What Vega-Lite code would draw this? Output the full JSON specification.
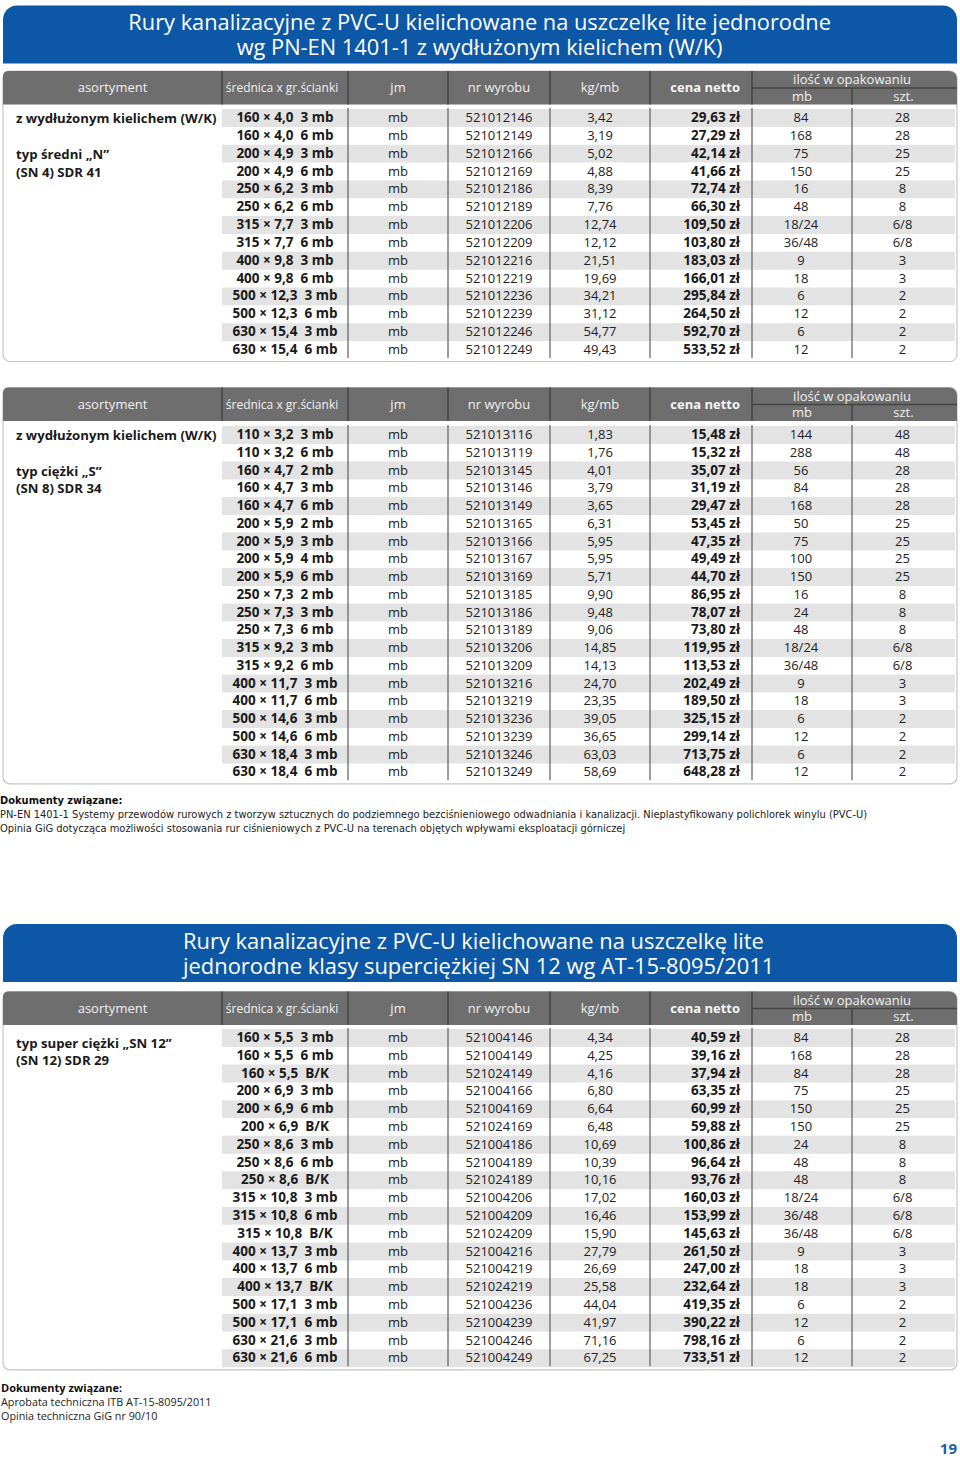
{
"$schema": "https://vega.github.io/schema/vega-lite/v6.json",
"width": 960, "height": 1457,
"autosize": {"type": "fit", "contains": "padding"},
"padding": 0,
"background": "white",
"config": {"view": {"stroke": null}, "text": {"font": "Open Sans"}},
"datasets": {
"titles": [
{"banner": 1, "line": 1, "text": ["Rury kanalizacyjne z PVC-U kielichowane na uszczelkę lite jednorodne", "wg PN-EN 1401-1 z wydłużonym kielichem (W/K)"]},
{"banner": 2, "line": 42, "text": ["Rury kanalizacyjne z PVC-U kielichowane na uszczelkę lite", "jednorodne klasy superciężkiej SN 12 wg AT-15-8095/2011"]}
],
"tables": [
{"tab": 1, "head": 3, "first": 4, "last": 17, "h_asort": "asortyment", "h_sred": "średnica x gr.ścianki", "h_jm": "jm", "h_nr": "nr wyrobu", "h_kg": "kg/mb", "h_cena": "cena netto", "h_ilosc": "ilość w opakowaniu", "h_mb": "mb", "h_szt": "szt."},
{"tab": 2, "head": 18, "first": 19, "last": 38, "h_asort": "asortyment", "h_sred": "średnica x gr.ścianki", "h_jm": "jm", "h_nr": "nr wyrobu", "h_kg": "kg/mb", "h_cena": "cena netto", "h_ilosc": "ilość w opakowaniu", "h_mb": "mb", "h_szt": "szt."},
{"tab": 3, "head": 44, "first": 45, "last": 63, "h_asort": "asortyment", "h_sred": "średnica x gr.ścianki", "h_jm": "jm", "h_nr": "nr wyrobu", "h_kg": "kg/mb", "h_cena": "cena netto", "h_ilosc": "ilość w opakowaniu", "h_mb": "mb", "h_szt": "szt."}
],
"vlines": [
{"tab": 1, "b": 1}, {"tab": 1, "b": 2}, {"tab": 1, "b": 3}, {"tab": 1, "b": 4}, {"tab": 1, "b": 5}, {"tab": 1, "b": 6}, {"tab": 1, "b": 7},
{"tab": 2, "b": 1}, {"tab": 2, "b": 2}, {"tab": 2, "b": 3}, {"tab": 2, "b": 4}, {"tab": 2, "b": 5}, {"tab": 2, "b": 6}, {"tab": 2, "b": 7},
{"tab": 3, "b": 1}, {"tab": 3, "b": 2}, {"tab": 3, "b": 3}, {"tab": 3, "b": 4}, {"tab": 3, "b": 5}, {"tab": 3, "b": 6}, {"tab": 3, "b": 7}
],
"rows": [
{"tab": 1, "row": 1, "line": 4, "size": "160 × 4,0\u00a0 3 mb", "jm": "mb", "nr": "521012146", "kg": "3,42", "cena": "29,63 zł", "mb": "84", "szt": "28", "desc": "z wydłużonym kielichem (W/K)"},
{"tab": 1, "row": 2, "line": 5, "size": "160 × 4,0\u00a0 6 mb", "jm": "mb", "nr": "521012149", "kg": "3,19", "cena": "27,29 zł", "mb": "168", "szt": "28"},
{"tab": 1, "row": 3, "line": 6, "size": "200 × 4,9\u00a0 3 mb", "jm": "mb", "nr": "521012166", "kg": "5,02", "cena": "42,14 zł", "mb": "75", "szt": "25", "desc": "typ średni „N”"},
{"tab": 1, "row": 4, "line": 7, "size": "200 × 4,9\u00a0 6 mb", "jm": "mb", "nr": "521012169", "kg": "4,88", "cena": "41,66 zł", "mb": "150", "szt": "25", "desc": "(SN 4) SDR 41"},
{"tab": 1, "row": 5, "line": 8, "size": "250 × 6,2\u00a0 3 mb", "jm": "mb", "nr": "521012186", "kg": "8,39", "cena": "72,74 zł", "mb": "16", "szt": "8"},
{"tab": 1, "row": 6, "line": 9, "size": "250 × 6,2\u00a0 6 mb", "jm": "mb", "nr": "521012189", "kg": "7,76", "cena": "66,30 zł", "mb": "48", "szt": "8"},
{"tab": 1, "row": 7, "line": 10, "size": "315 × 7,7\u00a0 3 mb", "jm": "mb", "nr": "521012206", "kg": "12,74", "cena": "109,50 zł", "mb": "18/24", "szt": "6/8"},
{"tab": 1, "row": 8, "line": 11, "size": "315 × 7,7\u00a0 6 mb", "jm": "mb", "nr": "521012209", "kg": "12,12", "cena": "103,80 zł", "mb": "36/48", "szt": "6/8"},
{"tab": 1, "row": 9, "line": 12, "size": "400 × 9,8\u00a0 3 mb", "jm": "mb", "nr": "521012216", "kg": "21,51", "cena": "183,03 zł", "mb": "9", "szt": "3"},
{"tab": 1, "row": 10, "line": 13, "size": "400 × 9,8\u00a0 6 mb", "jm": "mb", "nr": "521012219", "kg": "19,69", "cena": "166,01 zł", "mb": "18", "szt": "3"},
{"tab": 1, "row": 11, "line": 14, "size": "500 × 12,3\u00a0 3 mb", "jm": "mb", "nr": "521012236", "kg": "34,21", "cena": "295,84 zł", "mb": "6", "szt": "2"},
{"tab": 1, "row": 12, "line": 15, "size": "500 × 12,3\u00a0 6 mb", "jm": "mb", "nr": "521012239", "kg": "31,12", "cena": "264,50 zł", "mb": "12", "szt": "2"},
{"tab": 1, "row": 13, "line": 16, "size": "630 × 15,4\u00a0 3 mb", "jm": "mb", "nr": "521012246", "kg": "54,77", "cena": "592,70 zł", "mb": "6", "szt": "2"},
{"tab": 1, "row": 14, "line": 17, "size": "630 × 15,4\u00a0 6 mb", "jm": "mb", "nr": "521012249", "kg": "49,43", "cena": "533,52 zł", "mb": "12", "szt": "2"},
{"tab": 2, "row": 1, "line": 19, "size": "110 × 3,2\u00a0 3 mb", "jm": "mb", "nr": "521013116", "kg": "1,83", "cena": "15,48 zł", "mb": "144", "szt": "48", "desc": "z wydłużonym kielichem (W/K)"},
{"tab": 2, "row": 2, "line": 20, "size": "110 × 3,2\u00a0 6 mb", "jm": "mb", "nr": "521013119", "kg": "1,76", "cena": "15,32 zł", "mb": "288", "szt": "48"},
{"tab": 2, "row": 3, "line": 21, "size": "160 × 4,7\u00a0 2 mb", "jm": "mb", "nr": "521013145", "kg": "4,01", "cena": "35,07 zł", "mb": "56", "szt": "28", "desc": "typ ciężki „S”"},
{"tab": 2, "row": 4, "line": 22, "size": "160 × 4,7\u00a0 3 mb", "jm": "mb", "nr": "521013146", "kg": "3,79", "cena": "31,19 zł", "mb": "84", "szt": "28", "desc": "(SN 8) SDR 34"},
{"tab": 2, "row": 5, "line": 23, "size": "160 × 4,7\u00a0 6 mb", "jm": "mb", "nr": "521013149", "kg": "3,65", "cena": "29,47 zł", "mb": "168", "szt": "28"},
{"tab": 2, "row": 6, "line": 24, "size": "200 × 5,9\u00a0 2 mb", "jm": "mb", "nr": "521013165", "kg": "6,31", "cena": "53,45 zł", "mb": "50", "szt": "25"},
{"tab": 2, "row": 7, "line": 25, "size": "200 × 5,9\u00a0 3 mb", "jm": "mb", "nr": "521013166", "kg": "5,95", "cena": "47,35 zł", "mb": "75", "szt": "25"},
{"tab": 2, "row": 8, "line": 26, "size": "200 × 5,9\u00a0 4 mb", "jm": "mb", "nr": "521013167", "kg": "5,95", "cena": "49,49 zł", "mb": "100", "szt": "25"},
{"tab": 2, "row": 9, "line": 27, "size": "200 × 5,9\u00a0 6 mb", "jm": "mb", "nr": "521013169", "kg": "5,71", "cena": "44,70 zł", "mb": "150", "szt": "25"},
{"tab": 2, "row": 10, "line": 28, "size": "250 × 7,3\u00a0 2 mb", "jm": "mb", "nr": "521013185", "kg": "9,90", "cena": "86,95 zł", "mb": "16", "szt": "8"},
{"tab": 2, "row": 11, "line": 29, "size": "250 × 7,3\u00a0 3 mb", "jm": "mb", "nr": "521013186", "kg": "9,48", "cena": "78,07 zł", "mb": "24", "szt": "8"},
{"tab": 2, "row": 12, "line": 30, "size": "250 × 7,3\u00a0 6 mb", "jm": "mb", "nr": "521013189", "kg": "9,06", "cena": "73,80 zł", "mb": "48", "szt": "8"},
{"tab": 2, "row": 13, "line": 31, "size": "315 × 9,2\u00a0 3 mb", "jm": "mb", "nr": "521013206", "kg": "14,85", "cena": "119,95 zł", "mb": "18/24", "szt": "6/8"},
{"tab": 2, "row": 14, "line": 32, "size": "315 × 9,2\u00a0 6 mb", "jm": "mb", "nr": "521013209", "kg": "14,13", "cena": "113,53 zł", "mb": "36/48", "szt": "6/8"},
{"tab": 2, "row": 15, "line": 33, "size": "400 × 11,7\u00a0 3 mb", "jm": "mb", "nr": "521013216", "kg": "24,70", "cena": "202,49 zł", "mb": "9", "szt": "3"},
{"tab": 2, "row": 16, "line": 34, "size": "400 × 11,7\u00a0 6 mb", "jm": "mb", "nr": "521013219", "kg": "23,35", "cena": "189,50 zł", "mb": "18", "szt": "3"},
{"tab": 2, "row": 17, "line": 35, "size": "500 × 14,6\u00a0 3 mb", "jm": "mb", "nr": "521013236", "kg": "39,05", "cena": "325,15 zł", "mb": "6", "szt": "2"},
{"tab": 2, "row": 18, "line": 36, "size": "500 × 14,6\u00a0 6 mb", "jm": "mb", "nr": "521013239", "kg": "36,65", "cena": "299,14 zł", "mb": "12", "szt": "2"},
{"tab": 2, "row": 19, "line": 37, "size": "630 × 18,4\u00a0 3 mb", "jm": "mb", "nr": "521013246", "kg": "63,03", "cena": "713,75 zł", "mb": "6", "szt": "2"},
{"tab": 2, "row": 20, "line": 38, "size": "630 × 18,4\u00a0 6 mb", "jm": "mb", "nr": "521013249", "kg": "58,69", "cena": "648,28 zł", "mb": "12", "szt": "2"},
{"tab": 3, "row": 1, "line": 45, "size": "160 × 5,5\u00a0 3 mb", "jm": "mb", "nr": "521004146", "kg": "4,34", "cena": "40,59 zł", "mb": "84", "szt": "28", "desc": "typ super ciężki „SN 12”"},
{"tab": 3, "row": 2, "line": 46, "size": "160 × 5,5\u00a0 6 mb", "jm": "mb", "nr": "521004149", "kg": "4,25", "cena": "39,16 zł", "mb": "168", "szt": "28", "desc": "(SN 12) SDR 29"},
{"tab": 3, "row": 3, "line": 47, "size": "160 × 5,5\u00a0 B/K", "jm": "mb", "nr": "521024149", "kg": "4,16", "cena": "37,94 zł", "mb": "84", "szt": "28"},
{"tab": 3, "row": 4, "line": 48, "size": "200 × 6,9\u00a0 3 mb", "jm": "mb", "nr": "521004166", "kg": "6,80", "cena": "63,35 zł", "mb": "75", "szt": "25"},
{"tab": 3, "row": 5, "line": 49, "size": "200 × 6,9\u00a0 6 mb", "jm": "mb", "nr": "521004169", "kg": "6,64", "cena": "60,99 zł", "mb": "150", "szt": "25"},
{"tab": 3, "row": 6, "line": 50, "size": "200 × 6,9\u00a0 B/K", "jm": "mb", "nr": "521024169", "kg": "6,48", "cena": "59,88 zł", "mb": "150", "szt": "25"},
{"tab": 3, "row": 7, "line": 51, "size": "250 × 8,6\u00a0 3 mb", "jm": "mb", "nr": "521004186", "kg": "10,69", "cena": "100,86 zł", "mb": "24", "szt": "8"},
{"tab": 3, "row": 8, "line": 52, "size": "250 × 8,6\u00a0 6 mb", "jm": "mb", "nr": "521004189", "kg": "10,39", "cena": "96,64 zł", "mb": "48", "szt": "8"},
{"tab": 3, "row": 9, "line": 53, "size": "250 × 8,6\u00a0 B/K", "jm": "mb", "nr": "521024189", "kg": "10,16", "cena": "93,76 zł", "mb": "48", "szt": "8"},
{"tab": 3, "row": 10, "line": 54, "size": "315 × 10,8\u00a0 3 mb", "jm": "mb", "nr": "521004206", "kg": "17,02", "cena": "160,03 zł", "mb": "18/24", "szt": "6/8"},
{"tab": 3, "row": 11, "line": 55, "size": "315 × 10,8\u00a0 6 mb", "jm": "mb", "nr": "521004209", "kg": "16,46", "cena": "153,99 zł", "mb": "36/48", "szt": "6/8"},
{"tab": 3, "row": 12, "line": 56, "size": "315 × 10,8\u00a0 B/K", "jm": "mb", "nr": "521024209", "kg": "15,90", "cena": "145,63 zł", "mb": "36/48", "szt": "6/8"},
{"tab": 3, "row": 13, "line": 57, "size": "400 × 13,7\u00a0 3 mb", "jm": "mb", "nr": "521004216", "kg": "27,79", "cena": "261,50 zł", "mb": "9", "szt": "3"},
{"tab": 3, "row": 14, "line": 58, "size": "400 × 13,7\u00a0 6 mb", "jm": "mb", "nr": "521004219", "kg": "26,69", "cena": "247,00 zł", "mb": "18", "szt": "3"},
{"tab": 3, "row": 15, "line": 59, "size": "400 × 13,7\u00a0 B/K", "jm": "mb", "nr": "521024219", "kg": "25,58", "cena": "232,64 zł", "mb": "18", "szt": "3"},
{"tab": 3, "row": 16, "line": 60, "size": "500 × 17,1\u00a0 3 mb", "jm": "mb", "nr": "521004236", "kg": "44,04", "cena": "419,35 zł", "mb": "6", "szt": "2"},
{"tab": 3, "row": 17, "line": 61, "size": "500 × 17,1\u00a0 6 mb", "jm": "mb", "nr": "521004239", "kg": "41,97", "cena": "390,22 zł", "mb": "12", "szt": "2"},
{"tab": 3, "row": 18, "line": 62, "size": "630 × 21,6\u00a0 3 mb", "jm": "mb", "nr": "521004246", "kg": "71,16", "cena": "798,16 zł", "mb": "6", "szt": "2"},
{"tab": 3, "row": 19, "line": 63, "size": "630 × 21,6\u00a0 6 mb", "jm": "mb", "nr": "521004249", "kg": "67,25", "cena": "733,51 zł", "mb": "12", "szt": "2"}
],
"notes": [
{"block": 1, "role": "heading", "line": 39, "text": "Dokumenty związane:"},
{"block": 1, "role": "item", "line": 40, "text": "PN-EN 1401-1 Systemy przewodów rurowych z tworzyw sztucznych do podziemnego bezciśnieniowego odwadniania i kanalizacji. Nieplastyfikowany polichlorek winylu (PVC-U)"},
{"block": 1, "role": "item", "line": 41, "text": "Opinia GiG dotycząca możliwości stosowania rur ciśnieniowych z PVC-U na terenach objętych wpływami eksploatacji górniczej"},
{"block": 3, "role": "heading", "line": 64, "text": "Dokumenty związane:"},
{"block": 3, "role": "item", "line": 65, "text": "Aprobata techniczna ITB AT-15-8095/2011"},
{"block": 3, "role": "item", "line": 66, "text": "Opinia techniczna GiG nr 90/10"}
],
"page": [{"line": 67, "text": "19"}]
},
"layer": [
{"data": {"name": "titles"},
 "mark": {"type": "rect", "color": "#0c58a6", "cornerRadiusTopLeft": 14, "cornerRadiusTopRight": 14, "yOffset": -18, "y2Offset": 40},
 "encoding": {
  "x": {"datum": 0, "type": "quantitative", "scale": {"domain": [0,1,2,3,4,5,6,7,8], "range": [3,222,348,448,550,650,752,852,957], "nice": false, "zero": false}, "axis": null},
  "x2": {"datum": 8},
  "y": {"field": "line", "type": "quantitative", "scale": {"domain": [1,2,3,4,17,18,19,38,39,40,41,42,43,44,45,63,64,65,66,67], "range": [23.5,47.5,88,118,350,404.5,435,772.3,800.5,814.5,828.5,942,967.5,1008.5,1038,1358.3,1389,1403,1417,1448.5], "nice": false, "zero": false}, "axis": null},
  "y2": {"field": "line"}}},
{"data": {"name": "titles"},
 "transform": [{"filter": "datum.banner == 1"}],
 "mark": {"type": "text", "align": "center", "baseline": "middle", "fontSize": 21.8, "lineHeight": 24.8, "color": "white", "dy": -0.5},
 "encoding": {
  "x": {"datum": 3.31, "type": "quantitative", "scale": {"domain": [0,1,2,3,4,5,6,7,8], "range": [3,222,348,448,550,650,752,852,957], "nice": false, "zero": false}, "axis": null},
  "y": {"field": "line", "type": "quantitative", "scale": {"domain": [1,2,3,4,17,18,19,38,39,40,41,42,43,44,45,63,64,65,66,67], "range": [23.5,47.5,88,118,350,404.5,435,772.3,800.5,814.5,828.5,942,967.5,1008.5,1038,1358.3,1389,1403,1417,1448.5], "nice": false, "zero": false}, "axis": null},
  "text": {"field": "text"}}},
{"data": {"name": "titles"},
 "transform": [{"filter": "datum.banner == 2"}],
 "mark": {"type": "text", "align": "left", "baseline": "middle", "fontSize": 21.9, "lineHeight": 25.5, "color": "white", "dy": -0.5},
 "encoding": {
  "x": {"datum": 0.822, "type": "quantitative", "scale": {"domain": [0,1,2,3,4,5,6,7,8], "range": [3,222,348,448,550,650,752,852,957], "nice": false, "zero": false}, "axis": null},
  "y": {"field": "line", "type": "quantitative", "scale": {"domain": [1,2,3,4,17,18,19,38,39,40,41,42,43,44,45,63,64,65,66,67], "range": [23.5,47.5,88,118,350,404.5,435,772.3,800.5,814.5,828.5,942,967.5,1008.5,1038,1358.3,1389,1403,1417,1448.5], "nice": false, "zero": false}, "axis": null},
  "text": {"field": "text"}}},
{"data": {"name": "tables"},
 "mark": {"type": "rect", "fill": "white", "stroke": "#c6c6c6", "strokeWidth": 1.2, "cornerRadius": 7, "yOffset": -17, "y2Offset": 11.5},
 "encoding": {
  "x": {"datum": 0, "type": "quantitative", "scale": {"domain": [0,1,2,3,4,5,6,7,8], "range": [3,222,348,448,550,650,752,852,957], "nice": false, "zero": false}, "axis": null},
  "x2": {"datum": 8},
  "y": {"field": "head", "type": "quantitative", "scale": {"domain": [1,2,3,4,17,18,19,38,39,40,41,42,43,44,45,63,64,65,66,67], "range": [23.5,47.5,88,118,350,404.5,435,772.3,800.5,814.5,828.5,942,967.5,1008.5,1038,1358.3,1389,1403,1417,1448.5], "nice": false, "zero": false}, "axis": null},
  "y2": {"field": "last"}}},
{"data": {"name": "tables"},
 "mark": {"type": "rect", "color": "#6e6e6e", "cornerRadiusTopLeft": 5, "cornerRadiusTopRight": 8, "yOffset": -17, "y2Offset": 16.5},
 "encoding": {
  "x": {"datum": 0, "type": "quantitative", "scale": {"domain": [0,1,2,3,4,5,6,7,8], "range": [3,222,348,448,550,650,752,852,957], "nice": false, "zero": false}, "axis": null},
  "x2": {"datum": 8},
  "y": {"field": "head", "type": "quantitative", "scale": {"domain": [1,2,3,4,17,18,19,38,39,40,41,42,43,44,45,63,64,65,66,67], "range": [23.5,47.5,88,118,350,404.5,435,772.3,800.5,814.5,828.5,942,967.5,1008.5,1038,1358.3,1389,1403,1417,1448.5], "nice": false, "zero": false}, "axis": null},
  "y2": {"field": "head"}}},
{"data": {"name": "rows"},
 "transform": [{"filter": "datum.row % 2 == 1"}],
 "mark": {"type": "rect", "color": "#e3e3e3", "yOffset": -9, "y2Offset": 8.9},
 "encoding": {
  "x": {"datum": 1, "type": "quantitative", "scale": {"domain": [0,1,2,3,4,5,6,7,8], "range": [3,222,348,448,550,650,752,852,957], "nice": false, "zero": false}, "axis": null},
  "x2": {"datum": 7.98},
  "y": {"field": "line", "type": "quantitative", "scale": {"domain": [1,2,3,4,17,18,19,38,39,40,41,42,43,44,45,63,64,65,66,67], "range": [23.5,47.5,88,118,350,404.5,435,772.3,800.5,814.5,828.5,942,967.5,1008.5,1038,1358.3,1389,1403,1417,1448.5], "nice": false, "zero": false}, "axis": null},
  "y2": {"field": "line"}}},
{"data": {"name": "vlines"},
 "transform": [{"lookup": "tab", "from": {"data": {"name": "tables"}, "key": "tab", "fields": ["head", "first", "last"]}}, {"filter": "datum.b >= 2"}],
 "mark": {"type": "rule", "color": "#5e5e5e", "strokeWidth": 1.2, "yOffset": -10, "y2Offset": 8},
 "encoding": {
  "x": {"field": "b", "type": "quantitative", "scale": {"domain": [0,1,2,3,4,5,6,7,8], "range": [3,222,348,448,550,650,752,852,957], "nice": false, "zero": false}, "axis": null},
  "y": {"field": "first", "type": "quantitative", "scale": {"domain": [1,2,3,4,17,18,19,38,39,40,41,42,43,44,45,63,64,65,66,67], "range": [23.5,47.5,88,118,350,404.5,435,772.3,800.5,814.5,828.5,942,967.5,1008.5,1038,1358.3,1389,1403,1417,1448.5], "nice": false, "zero": false}, "axis": null},
  "y2": {"field": "last"}}},
{"data": {"name": "vlines"},
 "transform": [{"lookup": "tab", "from": {"data": {"name": "tables"}, "key": "tab", "fields": ["head", "first", "last"]}}, {"filter": "datum.b <= 6"}],
 "mark": {"type": "rule", "color": "#444444", "strokeWidth": 1.5, "yOffset": -17, "y2Offset": 16.5},
 "encoding": {
  "x": {"field": "b", "type": "quantitative", "scale": {"domain": [0,1,2,3,4,5,6,7,8], "range": [3,222,348,448,550,650,752,852,957], "nice": false, "zero": false}, "axis": null},
  "y": {"field": "head", "type": "quantitative", "scale": {"domain": [1,2,3,4,17,18,19,38,39,40,41,42,43,44,45,63,64,65,66,67], "range": [23.5,47.5,88,118,350,404.5,435,772.3,800.5,814.5,828.5,942,967.5,1008.5,1038,1358.3,1389,1403,1417,1448.5], "nice": false, "zero": false}, "axis": null},
  "y2": {"field": "head"}}},
{"data": {"name": "vlines"},
 "transform": [{"lookup": "tab", "from": {"data": {"name": "tables"}, "key": "tab", "fields": ["head", "first", "last"]}}, {"filter": "datum.b == 7"}],
 "mark": {"type": "rule", "color": "#444444", "strokeWidth": 1.5, "y2Offset": 16.5},
 "encoding": {
  "x": {"field": "b", "type": "quantitative", "scale": {"domain": [0,1,2,3,4,5,6,7,8], "range": [3,222,348,448,550,650,752,852,957], "nice": false, "zero": false}, "axis": null},
  "y": {"field": "head", "type": "quantitative", "scale": {"domain": [1,2,3,4,17,18,19,38,39,40,41,42,43,44,45,63,64,65,66,67], "range": [23.5,47.5,88,118,350,404.5,435,772.3,800.5,814.5,828.5,942,967.5,1008.5,1038,1358.3,1389,1403,1417,1448.5], "nice": false, "zero": false}, "axis": null},
  "y2": {"field": "head"}}},
{"data": {"name": "tables"},
 "mark": {"type": "rule", "color": "#444444", "strokeWidth": 1.3},
 "encoding": {
  "x": {"datum": 6, "type": "quantitative", "scale": {"domain": [0,1,2,3,4,5,6,7,8], "range": [3,222,348,448,550,650,752,852,957], "nice": false, "zero": false}, "axis": null},
  "x2": {"datum": 8},
  "y": {"field": "head", "type": "quantitative", "scale": {"domain": [1,2,3,4,17,18,19,38,39,40,41,42,43,44,45,63,64,65,66,67], "range": [23.5,47.5,88,118,350,404.5,435,772.3,800.5,814.5,828.5,942,967.5,1008.5,1038,1358.3,1389,1403,1417,1448.5], "nice": false, "zero": false}, "axis": null}}},
{"data": {"name": "tables"},
 "mark": {"type": "text", "align": "center", "baseline": "middle", "fontSize": 13, "color": "#f0f0f0"},
 "encoding": {
  "x": {"datum": 0.5, "type": "quantitative", "scale": {"domain": [0,1,2,3,4,5,6,7,8], "range": [3,222,348,448,550,650,752,852,957], "nice": false, "zero": false}, "axis": null},
  "y": {"field": "head", "type": "quantitative", "scale": {"domain": [1,2,3,4,17,18,19,38,39,40,41,42,43,44,45,63,64,65,66,67], "range": [23.5,47.5,88,118,350,404.5,435,772.3,800.5,814.5,828.5,942,967.5,1008.5,1038,1358.3,1389,1403,1417,1448.5], "nice": false, "zero": false}, "axis": null},
  "text": {"field": "h_asort"}}},
{"data": {"name": "tables"},
 "mark": {"type": "text", "align": "center", "baseline": "middle", "fontSize": 12, "color": "#f0f0f0", "dx": -3},
 "encoding": {
  "x": {"datum": 1.5, "type": "quantitative", "scale": {"domain": [0,1,2,3,4,5,6,7,8], "range": [3,222,348,448,550,650,752,852,957], "nice": false, "zero": false}, "axis": null},
  "y": {"field": "head", "type": "quantitative", "scale": {"domain": [1,2,3,4,17,18,19,38,39,40,41,42,43,44,45,63,64,65,66,67], "range": [23.5,47.5,88,118,350,404.5,435,772.3,800.5,814.5,828.5,942,967.5,1008.5,1038,1358.3,1389,1403,1417,1448.5], "nice": false, "zero": false}, "axis": null},
  "text": {"field": "h_sred"}}},
{"data": {"name": "tables"},
 "mark": {"type": "text", "align": "center", "baseline": "middle", "fontSize": 13, "color": "#f0f0f0"},
 "encoding": {
  "x": {"datum": 2.5, "type": "quantitative", "scale": {"domain": [0,1,2,3,4,5,6,7,8], "range": [3,222,348,448,550,650,752,852,957], "nice": false, "zero": false}, "axis": null},
  "y": {"field": "head", "type": "quantitative", "scale": {"domain": [1,2,3,4,17,18,19,38,39,40,41,42,43,44,45,63,64,65,66,67], "range": [23.5,47.5,88,118,350,404.5,435,772.3,800.5,814.5,828.5,942,967.5,1008.5,1038,1358.3,1389,1403,1417,1448.5], "nice": false, "zero": false}, "axis": null},
  "text": {"field": "h_jm"}}},
{"data": {"name": "tables"},
 "mark": {"type": "text", "align": "center", "baseline": "middle", "fontSize": 13, "color": "#f0f0f0"},
 "encoding": {
  "x": {"datum": 3.5, "type": "quantitative", "scale": {"domain": [0,1,2,3,4,5,6,7,8], "range": [3,222,348,448,550,650,752,852,957], "nice": false, "zero": false}, "axis": null},
  "y": {"field": "head", "type": "quantitative", "scale": {"domain": [1,2,3,4,17,18,19,38,39,40,41,42,43,44,45,63,64,65,66,67], "range": [23.5,47.5,88,118,350,404.5,435,772.3,800.5,814.5,828.5,942,967.5,1008.5,1038,1358.3,1389,1403,1417,1448.5], "nice": false, "zero": false}, "axis": null},
  "text": {"field": "h_nr"}}},
{"data": {"name": "tables"},
 "mark": {"type": "text", "align": "center", "baseline": "middle", "fontSize": 13, "color": "#f0f0f0"},
 "encoding": {
  "x": {"datum": 4.5, "type": "quantitative", "scale": {"domain": [0,1,2,3,4,5,6,7,8], "range": [3,222,348,448,550,650,752,852,957], "nice": false, "zero": false}, "axis": null},
  "y": {"field": "head", "type": "quantitative", "scale": {"domain": [1,2,3,4,17,18,19,38,39,40,41,42,43,44,45,63,64,65,66,67], "range": [23.5,47.5,88,118,350,404.5,435,772.3,800.5,814.5,828.5,942,967.5,1008.5,1038,1358.3,1389,1403,1417,1448.5], "nice": false, "zero": false}, "axis": null},
  "text": {"field": "h_kg"}}},
{"data": {"name": "tables"},
 "mark": {"type": "text", "align": "right", "baseline": "middle", "fontSize": 13, "fontWeight": "bold", "color": "#f4f4f4", "dx": -12},
 "encoding": {
  "x": {"datum": 6, "type": "quantitative", "scale": {"domain": [0,1,2,3,4,5,6,7,8], "range": [3,222,348,448,550,650,752,852,957], "nice": false, "zero": false}, "axis": null},
  "y": {"field": "head", "type": "quantitative", "scale": {"domain": [1,2,3,4,17,18,19,38,39,40,41,42,43,44,45,63,64,65,66,67], "range": [23.5,47.5,88,118,350,404.5,435,772.3,800.5,814.5,828.5,942,967.5,1008.5,1038,1358.3,1389,1403,1417,1448.5], "nice": false, "zero": false}, "axis": null},
  "text": {"field": "h_cena"}}},
{"data": {"name": "tables"},
 "mark": {"type": "text", "align": "center", "baseline": "middle", "fontSize": 13, "color": "#f0f0f0", "dy": -8},
 "encoding": {
  "x": {"datum": 7, "type": "quantitative", "scale": {"domain": [0,1,2,3,4,5,6,7,8], "range": [3,222,348,448,550,650,752,852,957], "nice": false, "zero": false}, "axis": null},
  "y": {"field": "head", "type": "quantitative", "scale": {"domain": [1,2,3,4,17,18,19,38,39,40,41,42,43,44,45,63,64,65,66,67], "range": [23.5,47.5,88,118,350,404.5,435,772.3,800.5,814.5,828.5,942,967.5,1008.5,1038,1358.3,1389,1403,1417,1448.5], "nice": false, "zero": false}, "axis": null},
  "text": {"field": "h_ilosc"}}},
{"data": {"name": "tables"},
 "mark": {"type": "text", "align": "center", "baseline": "middle", "fontSize": 13, "color": "#f0f0f0", "dy": 8.7},
 "encoding": {
  "x": {"datum": 6.5, "type": "quantitative", "scale": {"domain": [0,1,2,3,4,5,6,7,8], "range": [3,222,348,448,550,650,752,852,957], "nice": false, "zero": false}, "axis": null},
  "y": {"field": "head", "type": "quantitative", "scale": {"domain": [1,2,3,4,17,18,19,38,39,40,41,42,43,44,45,63,64,65,66,67], "range": [23.5,47.5,88,118,350,404.5,435,772.3,800.5,814.5,828.5,942,967.5,1008.5,1038,1358.3,1389,1403,1417,1448.5], "nice": false, "zero": false}, "axis": null},
  "text": {"field": "h_mb"}}},
{"data": {"name": "tables"},
 "mark": {"type": "text", "align": "center", "baseline": "middle", "fontSize": 13, "color": "#f0f0f0", "dy": 8.7, "dx": -1},
 "encoding": {
  "x": {"datum": 7.5, "type": "quantitative", "scale": {"domain": [0,1,2,3,4,5,6,7,8], "range": [3,222,348,448,550,650,752,852,957], "nice": false, "zero": false}, "axis": null},
  "y": {"field": "head", "type": "quantitative", "scale": {"domain": [1,2,3,4,17,18,19,38,39,40,41,42,43,44,45,63,64,65,66,67], "range": [23.5,47.5,88,118,350,404.5,435,772.3,800.5,814.5,828.5,942,967.5,1008.5,1038,1358.3,1389,1403,1417,1448.5], "nice": false, "zero": false}, "axis": null},
  "text": {"field": "h_szt"}}},
{"data": {"name": "rows"},
 "mark": {"type": "text", "align": "center", "baseline": "middle", "fontSize": 13.5, "fontWeight": "bold", "color": "#1a1a1a"},
 "encoding": {
  "x": {"datum": 1.5, "type": "quantitative", "scale": {"domain": [0,1,2,3,4,5,6,7,8], "range": [3,222,348,448,550,650,752,852,957], "nice": false, "zero": false}, "axis": null},
  "y": {"field": "line", "type": "quantitative", "scale": {"domain": [1,2,3,4,17,18,19,38,39,40,41,42,43,44,45,63,64,65,66,67], "range": [23.5,47.5,88,118,350,404.5,435,772.3,800.5,814.5,828.5,942,967.5,1008.5,1038,1358.3,1389,1403,1417,1448.5], "nice": false, "zero": false}, "axis": null},
  "text": {"field": "size"}}},
{"data": {"name": "rows"},
 "mark": {"type": "text", "align": "center", "baseline": "middle", "fontSize": 13, "color": "#222222"},
 "encoding": {
  "x": {"datum": 2.5, "type": "quantitative", "scale": {"domain": [0,1,2,3,4,5,6,7,8], "range": [3,222,348,448,550,650,752,852,957], "nice": false, "zero": false}, "axis": null},
  "y": {"field": "line", "type": "quantitative", "scale": {"domain": [1,2,3,4,17,18,19,38,39,40,41,42,43,44,45,63,64,65,66,67], "range": [23.5,47.5,88,118,350,404.5,435,772.3,800.5,814.5,828.5,942,967.5,1008.5,1038,1358.3,1389,1403,1417,1448.5], "nice": false, "zero": false}, "axis": null},
  "text": {"field": "jm"}}},
{"data": {"name": "rows"},
 "mark": {"type": "text", "align": "center", "baseline": "middle", "fontSize": 13, "color": "#222222"},
 "encoding": {
  "x": {"datum": 3.5, "type": "quantitative", "scale": {"domain": [0,1,2,3,4,5,6,7,8], "range": [3,222,348,448,550,650,752,852,957], "nice": false, "zero": false}, "axis": null},
  "y": {"field": "line", "type": "quantitative", "scale": {"domain": [1,2,3,4,17,18,19,38,39,40,41,42,43,44,45,63,64,65,66,67], "range": [23.5,47.5,88,118,350,404.5,435,772.3,800.5,814.5,828.5,942,967.5,1008.5,1038,1358.3,1389,1403,1417,1448.5], "nice": false, "zero": false}, "axis": null},
  "text": {"field": "nr"}}},
{"data": {"name": "rows"},
 "mark": {"type": "text", "align": "center", "baseline": "middle", "fontSize": 13, "color": "#222222"},
 "encoding": {
  "x": {"datum": 4.5, "type": "quantitative", "scale": {"domain": [0,1,2,3,4,5,6,7,8], "range": [3,222,348,448,550,650,752,852,957], "nice": false, "zero": false}, "axis": null},
  "y": {"field": "line", "type": "quantitative", "scale": {"domain": [1,2,3,4,17,18,19,38,39,40,41,42,43,44,45,63,64,65,66,67], "range": [23.5,47.5,88,118,350,404.5,435,772.3,800.5,814.5,828.5,942,967.5,1008.5,1038,1358.3,1389,1403,1417,1448.5], "nice": false, "zero": false}, "axis": null},
  "text": {"field": "kg"}}},
{"data": {"name": "rows"},
 "mark": {"type": "text", "align": "right", "baseline": "middle", "fontSize": 13.5, "fontWeight": "bold", "color": "#1a1a1a", "dx": -12},
 "encoding": {
  "x": {"datum": 6, "type": "quantitative", "scale": {"domain": [0,1,2,3,4,5,6,7,8], "range": [3,222,348,448,550,650,752,852,957], "nice": false, "zero": false}, "axis": null},
  "y": {"field": "line", "type": "quantitative", "scale": {"domain": [1,2,3,4,17,18,19,38,39,40,41,42,43,44,45,63,64,65,66,67], "range": [23.5,47.5,88,118,350,404.5,435,772.3,800.5,814.5,828.5,942,967.5,1008.5,1038,1358.3,1389,1403,1417,1448.5], "nice": false, "zero": false}, "axis": null},
  "text": {"field": "cena"}}},
{"data": {"name": "rows"},
 "mark": {"type": "text", "align": "center", "baseline": "middle", "fontSize": 13, "color": "#222222", "dx": -1},
 "encoding": {
  "x": {"datum": 6.5, "type": "quantitative", "scale": {"domain": [0,1,2,3,4,5,6,7,8], "range": [3,222,348,448,550,650,752,852,957], "nice": false, "zero": false}, "axis": null},
  "y": {"field": "line", "type": "quantitative", "scale": {"domain": [1,2,3,4,17,18,19,38,39,40,41,42,43,44,45,63,64,65,66,67], "range": [23.5,47.5,88,118,350,404.5,435,772.3,800.5,814.5,828.5,942,967.5,1008.5,1038,1358.3,1389,1403,1417,1448.5], "nice": false, "zero": false}, "axis": null},
  "text": {"field": "mb"}}},
{"data": {"name": "rows"},
 "mark": {"type": "text", "align": "center", "baseline": "middle", "fontSize": 13, "color": "#222222", "dx": -2},
 "encoding": {
  "x": {"datum": 7.5, "type": "quantitative", "scale": {"domain": [0,1,2,3,4,5,6,7,8], "range": [3,222,348,448,550,650,752,852,957], "nice": false, "zero": false}, "axis": null},
  "y": {"field": "line", "type": "quantitative", "scale": {"domain": [1,2,3,4,17,18,19,38,39,40,41,42,43,44,45,63,64,65,66,67], "range": [23.5,47.5,88,118,350,404.5,435,772.3,800.5,814.5,828.5,942,967.5,1008.5,1038,1358.3,1389,1403,1417,1448.5], "nice": false, "zero": false}, "axis": null},
  "text": {"field": "szt"}}},
{"data": {"name": "rows"},
 "transform": [{"filter": "datum.desc && datum.tab != 3"}],
 "mark": {"type": "text", "align": "left", "baseline": "middle", "fontSize": 13.2, "fontWeight": "bold", "color": "#1a1a1a", "dx": 13, "dy": 1},
 "encoding": {
  "x": {"datum": 0, "type": "quantitative", "scale": {"domain": [0,1,2,3,4,5,6,7,8], "range": [3,222,348,448,550,650,752,852,957], "nice": false, "zero": false}, "axis": null},
  "y": {"field": "line", "type": "quantitative", "scale": {"domain": [1,2,3,4,17,18,19,38,39,40,41,42,43,44,45,63,64,65,66,67], "range": [23.5,47.5,88,118,350,404.5,435,772.3,800.5,814.5,828.5,942,967.5,1008.5,1038,1358.3,1389,1403,1417,1448.5], "nice": false, "zero": false}, "axis": null},
  "text": {"field": "desc"}}},
{"data": {"name": "rows"},
 "transform": [{"filter": "datum.desc && datum.tab == 3"}],
 "mark": {"type": "text", "align": "left", "baseline": "middle", "fontSize": 13.2, "fontWeight": "bold", "color": "#1a1a1a", "dx": 13, "dy": 5.5},
 "encoding": {
  "x": {"datum": 0, "type": "quantitative", "scale": {"domain": [0,1,2,3,4,5,6,7,8], "range": [3,222,348,448,550,650,752,852,957], "nice": false, "zero": false}, "axis": null},
  "y": {"field": "line", "type": "quantitative", "scale": {"domain": [1,2,3,4,17,18,19,38,39,40,41,42,43,44,45,63,64,65,66,67], "range": [23.5,47.5,88,118,350,404.5,435,772.3,800.5,814.5,828.5,942,967.5,1008.5,1038,1358.3,1389,1403,1417,1448.5], "nice": false, "zero": false}, "axis": null},
  "text": {"field": "desc"}}},
{"data": {"name": "notes"},
 "transform": [{"filter": "datum.block == 1 && datum.role == 'heading'"}],
 "mark": {"type": "text", "align": "left", "baseline": "middle", "fontSize": 11, "fontWeight": "bold", "font": "Liberation Sans Narrow, DejaVu Sans Condensed, sans-serif", "color": "#111111", "dx": -3},
 "encoding": {
  "x": {"datum": 0, "type": "quantitative", "scale": {"domain": [0,1,2,3,4,5,6,7,8], "range": [3,222,348,448,550,650,752,852,957], "nice": false, "zero": false}, "axis": null},
  "y": {"field": "line", "type": "quantitative", "scale": {"domain": [1,2,3,4,17,18,19,38,39,40,41,42,43,44,45,63,64,65,66,67], "range": [23.5,47.5,88,118,350,404.5,435,772.3,800.5,814.5,828.5,942,967.5,1008.5,1038,1358.3,1389,1403,1417,1448.5], "nice": false, "zero": false}, "axis": null},
  "text": {"field": "text"}}},
{"data": {"name": "notes"},
 "transform": [{"filter": "datum.block == 1 && datum.role == 'item'"}],
 "mark": {"type": "text", "align": "left", "baseline": "middle", "fontSize": 11, "font": "Liberation Sans Narrow, DejaVu Sans Condensed, sans-serif", "color": "#222222", "dx": -3},
 "encoding": {
  "x": {"datum": 0, "type": "quantitative", "scale": {"domain": [0,1,2,3,4,5,6,7,8], "range": [3,222,348,448,550,650,752,852,957], "nice": false, "zero": false}, "axis": null},
  "y": {"field": "line", "type": "quantitative", "scale": {"domain": [1,2,3,4,17,18,19,38,39,40,41,42,43,44,45,63,64,65,66,67], "range": [23.5,47.5,88,118,350,404.5,435,772.3,800.5,814.5,828.5,942,967.5,1008.5,1038,1358.3,1389,1403,1417,1448.5], "nice": false, "zero": false}, "axis": null},
  "text": {"field": "text"}}},
{"data": {"name": "notes"},
 "transform": [{"filter": "datum.block == 3 && datum.role == 'heading'"}],
 "mark": {"type": "text", "align": "left", "baseline": "middle", "fontSize": 11, "fontWeight": "bold", "color": "#111111", "dx": -2},
 "encoding": {
  "x": {"datum": 0, "type": "quantitative", "scale": {"domain": [0,1,2,3,4,5,6,7,8], "range": [3,222,348,448,550,650,752,852,957], "nice": false, "zero": false}, "axis": null},
  "y": {"field": "line", "type": "quantitative", "scale": {"domain": [1,2,3,4,17,18,19,38,39,40,41,42,43,44,45,63,64,65,66,67], "range": [23.5,47.5,88,118,350,404.5,435,772.3,800.5,814.5,828.5,942,967.5,1008.5,1038,1358.3,1389,1403,1417,1448.5], "nice": false, "zero": false}, "axis": null},
  "text": {"field": "text"}}},
{"data": {"name": "notes"},
 "transform": [{"filter": "datum.block == 3 && datum.role == 'item'"}],
 "mark": {"type": "text", "align": "left", "baseline": "middle", "fontSize": 10.8, "color": "#222222", "dx": -2},
 "encoding": {
  "x": {"datum": 0, "type": "quantitative", "scale": {"domain": [0,1,2,3,4,5,6,7,8], "range": [3,222,348,448,550,650,752,852,957], "nice": false, "zero": false}, "axis": null},
  "y": {"field": "line", "type": "quantitative", "scale": {"domain": [1,2,3,4,17,18,19,38,39,40,41,42,43,44,45,63,64,65,66,67], "range": [23.5,47.5,88,118,350,404.5,435,772.3,800.5,814.5,828.5,942,967.5,1008.5,1038,1358.3,1389,1403,1417,1448.5], "nice": false, "zero": false}, "axis": null},
  "text": {"field": "text"}}},
{"data": {"name": "page"},
 "mark": {"type": "text", "align": "right", "baseline": "middle", "fontSize": 15, "fontWeight": "bold", "color": "#1d5ea8"},
 "encoding": {
  "x": {"datum": 8, "type": "quantitative", "scale": {"domain": [0,1,2,3,4,5,6,7,8], "range": [3,222,348,448,550,650,752,852,957], "nice": false, "zero": false}, "axis": null},
  "y": {"field": "line", "type": "quantitative", "scale": {"domain": [1,2,3,4,17,18,19,38,39,40,41,42,43,44,45,63,64,65,66,67], "range": [23.5,47.5,88,118,350,404.5,435,772.3,800.5,814.5,828.5,942,967.5,1008.5,1038,1358.3,1389,1403,1417,1448.5], "nice": false, "zero": false}, "axis": null},
  "text": {"field": "text"}}}
]
}
